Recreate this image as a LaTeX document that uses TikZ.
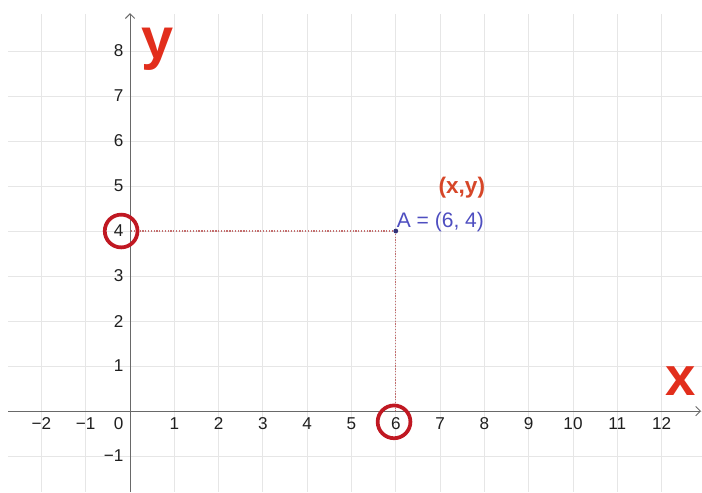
\documentclass[tikz,border=0pt]{standalone}
\usepackage{fontspec}
\setmainfont{Liberation Sans}
\usetikzlibrary{arrows.meta}
\definecolor{gridgray}{RGB}{230,230,230}
\definecolor{axisgray}{RGB}{105,105,105}
\definecolor{markred}{RGB}{192,24,34}
\definecolor{bigred}{RGB}{226,46,28}
\definecolor{pairred}{RGB}{214,70,40}
\definecolor{ptblue}{RGB}{78,78,192}
\definecolor{ptdark}{RGB}{50,50,120}
\definecolor{dotred}{RGB}{196,110,110}
\begin{document}
\begin{tikzpicture}[x=1cm,y=1.016cm,gridline/.style={gridgray,line width=0.6pt},axis/.style={axisgray,line width=0.6pt,-{Straight Barb[length=3pt,width=6pt]}},tick/.style={font=\fontsize{11}{11}\selectfont,text=black!88,inner sep=0pt},ring/.style={draw=markred,line width=2.4pt,circle,minimum size=0.74cm,inner sep=0pt},guide/.style={dotred,densely dotted,line width=0.8pt},big/.style={text=bigred,font=\fontsize{37}{37}\selectfont\bfseries,inner sep=0pt}]
\useasboundingbox (-2.935,-1.8) rectangle (12.912,9.133);
\foreach \x in {-2,...,12}{\draw[gridline](\x,-1.8)--(\x,8.82);}
\foreach \y in {-1,...,8}{\draw[gridline](-2.75,\y)--(12.912,\y);}
\coordinate (o) at (0,0);
\draw[axis](-2.75,0)--(12.89,0);
\draw[axis](0,-1.8)--(0,8.84);
% tick labels
\foreach \x in {1,...,12}{\node[tick](x\x) at (\x,-0.27){\x};}
\foreach \x/\t in {-2/−2,-1/−1}{\node[tick](x\t) at (\x,-0.27){\t};}
\foreach \y in {1,...,8}{\node[tick,anchor=east](y\y) at (-0.14,\y){\y};}
\node[tick,anchor=east](ym) at (-0.14,-1){−1};
\node[tick,anchor=east](x0) at (-0.14,-0.27){0};
% point A and its guides
\node[circle,fill=ptdark,inner sep=1.1pt](A) at (6,4){};
\draw[guide](A)--(A -| o);
\draw[guide](A)--(A |- o);
\node[ring](c4) at (-0.2,4){};
\node[ring](c6) at (5.96,-0.24){};
\node[text=ptblue,font=\fontsize{13.5}{13.5}\selectfont,anchor=base west,inner sep=0pt](lblA) at ([xshift=0.5pt,yshift=2.5pt]A.center){A = (6, 4)};
\node[text=pairred,font=\fontsize{14.5}{14.5}\selectfont\bfseries](pair) at (7.49,4.96){(x,y)};
\node[big](ylbl) at (0.63,8.04){y};
\node[big,font=\fontsize{35}{35}\selectfont\bfseries](xlbl) at (12.42,0.667){x};
\end{tikzpicture}
\end{document}
